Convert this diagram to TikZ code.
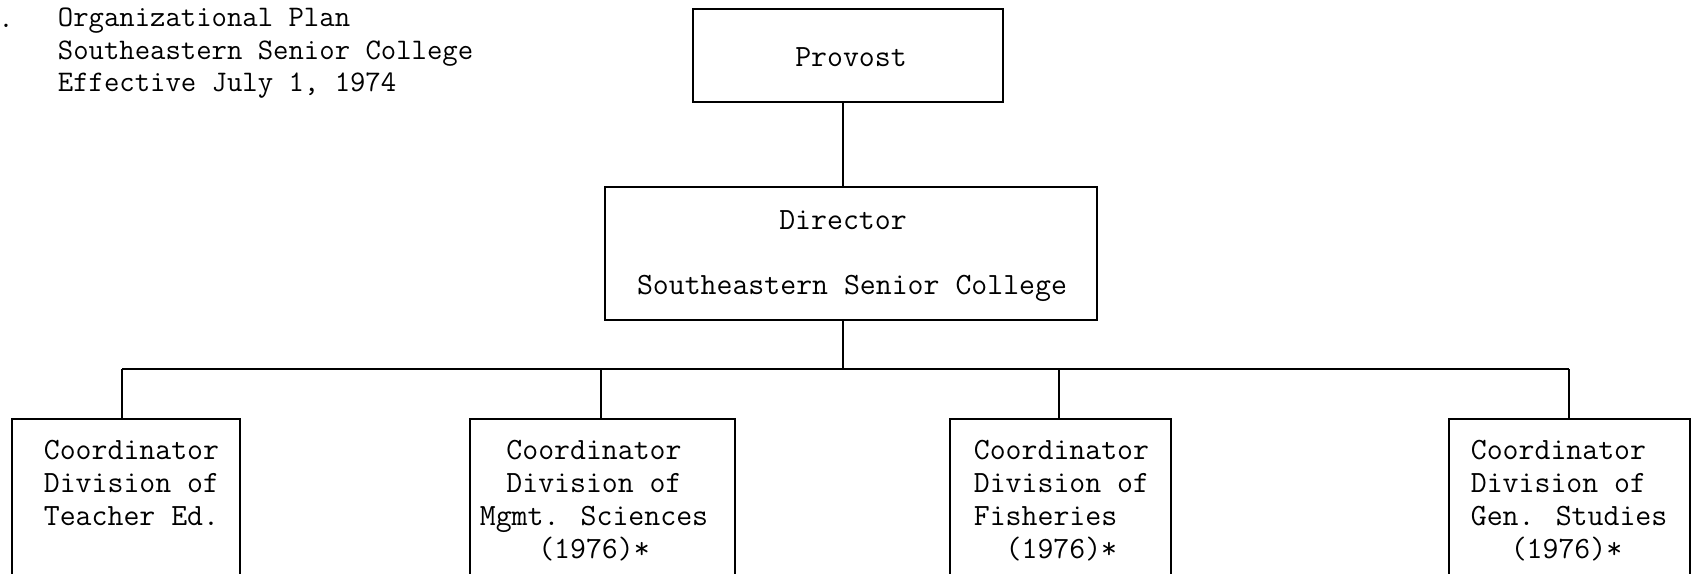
\documentclass[tikz,border=0pt]{standalone}
\usepackage{fontspec}
\begin{document}
\begin{tikzpicture}[x=0.02cm,y=-0.02cm,line width=1pt,
  box/.style={draw,rectangle,inner sep=0pt},
  txt/.style={font=\ttfamily\fontsize{17.6}{18.8}\selectfont,inner sep=0pt},
  ttl/.style={font=\ttfamily\fontsize{17}{18.6}\selectfont,inner sep=0pt},
  ]
\useasboundingbox (0,0) rectangle (1695,574);
\clip (0,0) rectangle (1695,574);
% title
\node[ttl,anchor=base] (dot) at (6,28) {.};
\node[ttl,anchor=north west,align=left] (title) at (57,7)
  {Organizational Plan\\Southeastern Senior College\\Effective July 1, 1974};
% boxes
\node[box,minimum width=6.2cm,minimum height=1.86cm] (prov) at (848,55.5) {};
\node[box,minimum width=9.84cm,minimum height=2.66cm] (dir) at (851,253.5) {};
\node[box,minimum width=4.56cm,minimum height=4cm] (c1) at (126,519) {};
\node[box,minimum width=5.3cm,minimum height=4cm] (c2) at (602.5,519) {};
\node[box,minimum width=4.42cm,minimum height=4cm] (c3) at (1060.5,519) {};
\node[box,minimum width=4.82cm,minimum height=4cm] (c4) at (1569.5,519) {};
% texts
\node[txt,anchor=base] (tprov) at (851,67) {Provost};
\node[txt,anchor=base] (tdir1) at (843,230) {Director};
\node[txt,anchor=base] (tdir2) at (852,295) {Southeastern Senior College};
\node[txt,anchor=north west,align=left] (t1) at (43,439)
  {Coordinator\\Division of\\Teacher Ed.};
\node[txt,anchor=north,align=center] (t2) at (594,439)
  {Coordinator\\Division of\\Mgmt. Sciences\\(1976)*};
\node[txt,anchor=north west,align=left] (t3) at (973,439)
  {Coordinator\\Division of\\Fisheries\\~~(1976)*};
\node[txt,anchor=north west,align=left] (t4) at (1470,439)
  {Coordinator\\Division of\\Gen. Studies\\~~\hspace*{0.26em}(1976)*};
% connectors
\coordinate (dm) at (843,369);
\coordinate (d1) at (122,369);
\coordinate (d2) at (601,369);
\coordinate (d3) at (1059,369);
\coordinate (d4) at (1569,369);
\draw (prov.south -| dm) -- (dir.north -| dm);
\draw (dir.south -| dm) -- (dm);
\draw (d1) -- (d4);
\draw (d1) -- (d1 |- c1.north);
\draw (d2) -- (d2 |- c2.north);
\draw (d3) -- (d3 |- c3.north);
\draw (d4) -- (d4 |- c4.north);
\end{tikzpicture}
\end{document}
